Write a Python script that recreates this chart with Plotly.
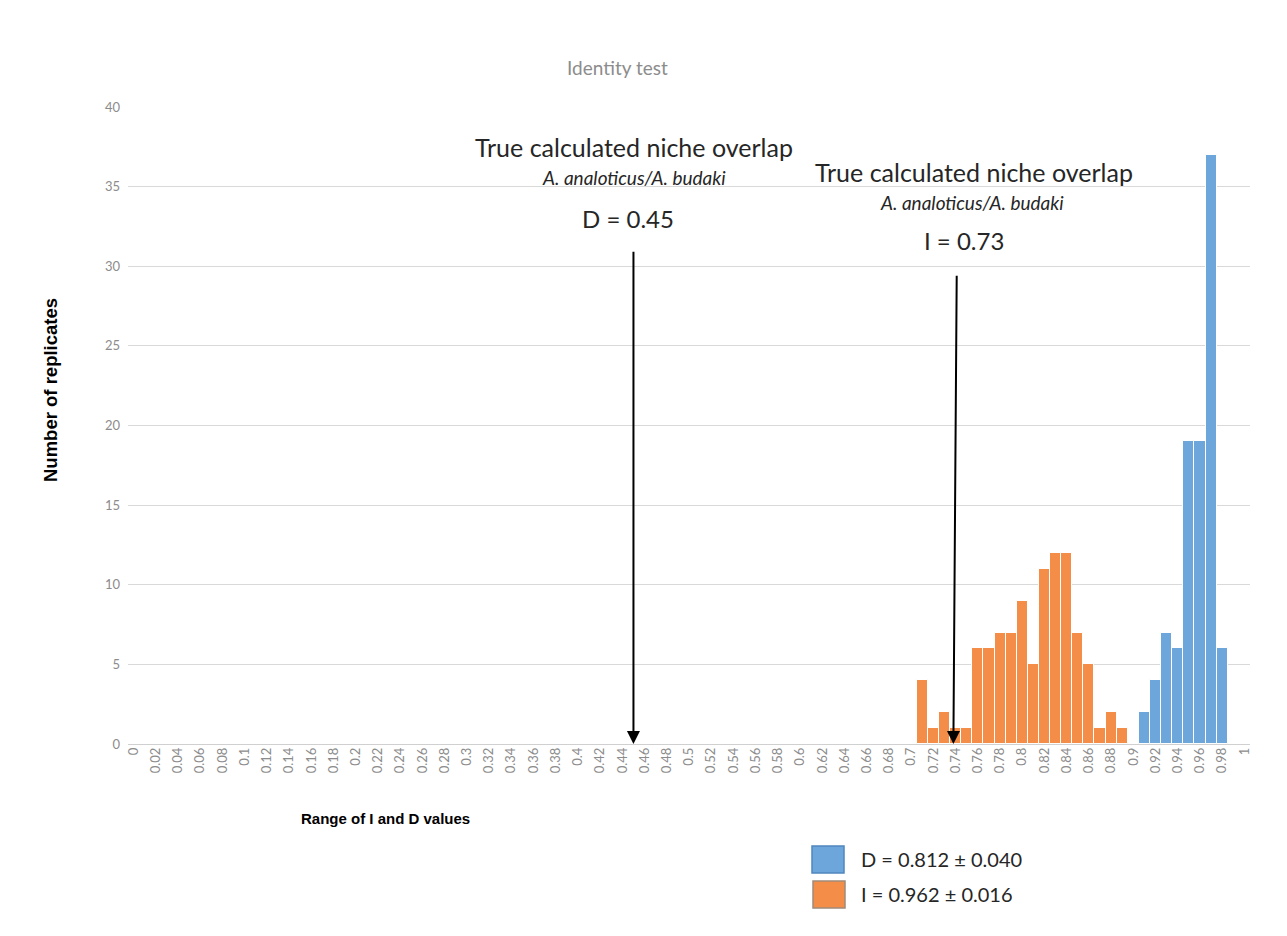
import plotly.graph_objects as go

# ---------------- data ----------------
blue_bins = [0.91, 0.92, 0.93, 0.94, 0.95, 0.96, 0.97, 0.98]
blue_counts = [2, 4, 7, 6, 19, 19, 37, 6]
blue_name = "D = 0.812 ± 0.040"

orange_bins = [0.71, 0.72, 0.73, 0.74, 0.75, 0.76, 0.77, 0.78, 0.79, 0.80,
               0.81, 0.82, 0.83, 0.84, 0.85, 0.86, 0.87, 0.88, 0.89]
orange_counts = [4, 1, 2, 1, 1, 6, 6, 7, 7, 9, 5, 11, 12, 12, 7, 5, 1, 2, 1]
orange_name = "I = 0.962 ± 0.016"

tick_vals = [0, 0.02, 0.04, 0.06, 0.08, 0.1, 0.12, 0.14, 0.16, 0.18, 0.2,
             0.22, 0.24, 0.26, 0.28, 0.3, 0.32, 0.34, 0.36, 0.38, 0.4,
             0.42, 0.44, 0.46, 0.48, 0.5, 0.52, 0.54, 0.56, 0.58, 0.6,
             0.62, 0.64, 0.66, 0.68, 0.7, 0.72, 0.74, 0.76, 0.78, 0.8,
             0.82, 0.84, 0.86, 0.88, 0.9, 0.92, 0.94, 0.96, 0.98, 1]
tick_text = [f"{v:g}" for v in tick_vals]

D_true = 0.45
I_true = 0.74  # where the "I = 0.73" arrow lands

BLUE = "#6ca6da"
ORANGE = "#f48d47"
TXT = "#262626"
TICK = "#8c8c8c"

W, H = 1287, 936
OFF = 8  # page body margin
L, R, T, B = 120, 45, 99, 200
PW = W - L - R
PH = H - T - B


def px(xp):
    return (xp - OFF - L) / PW


def py(yp):
    return (H - B - (yp - OFF)) / PH


fig = go.Figure()
fig.add_trace(go.Bar(x=orange_bins, y=orange_counts, name=orange_name,
                     marker=dict(color=ORANGE, line=dict(color="white", width=1)),
                     width=0.01, showlegend=False))
fig.add_trace(go.Bar(x=blue_bins, y=blue_counts, name=blue_name,
                     marker=dict(color=BLUE, line=dict(color="white", width=1)),
                     width=0.01, showlegend=False))

fig.update_layout(
    width=W, height=H,
    margin=dict(l=L, r=R, t=T, b=B),
    paper_bgcolor="white", plot_bgcolor="white",
    barmode="overlay", bargap=0,
    font=dict(family="Lato, Open Sans, sans-serif", color=TICK),
    xaxis=dict(range=[-0.005, 1.005], tickmode="array", tickvals=tick_vals,
               ticktext=tick_text, tickangle=-90, showgrid=False,
               zeroline=False, showline=False, ticks="",
               tickfont=dict(size=13, color=TICK, family="Lato")),
    yaxis=dict(range=[0, 40], dtick=5, showgrid=True, gridcolor="#d9d9d9",
               gridwidth=1, zeroline=True, zerolinecolor="#d0d0d0", zerolinewidth=1,
               ticks="", ticklabelstandoff=7,
               tickfont=dict(size=13, color=TICK, family="Lato")),
)


def txt(text, x, y, size, color=TXT, family="Lato", xanchor="center", angle=0):
    return dict(text=text, x=px(x), y=py(y), xref="paper", yref="paper",
                xanchor=xanchor, yanchor="middle", showarrow=False, textangle=angle,
                font=dict(size=size, color=color, family=family))


annos = []
annos.append(txt("Identity test", 617, 68, 19, color=TICK))
annos.append(txt("<b>Number of replicates</b>", 50, 390, 18.5, color="black",
                 family="Liberation Sans, Arial", angle=-90))
annos.append(txt("<b>Range of I and D values</b>", 385, 818, 15, color="black",
                 family="Liberation Sans, Arial"))

annos.append(txt("True calculated niche overlap", 634, 147, 25))
annos.append(txt("<i>A. analoticus/A. budaki</i>", 634, 178, 19))
annos.append(txt("D = 0.45", 628, 218, 24))

annos.append(txt("True calculated niche overlap", 974, 172, 25))
annos.append(txt("<i>A. analoticus/A. budaki</i>", 972, 202, 19))
annos.append(txt("I = 0.73", 964, 240, 24))

# arrows
annos.append(dict(x=D_true, y=0, xref="x", yref="y", ax=D_true, ay=31, axref="x", ayref="y",
                  showarrow=True, arrowhead=2, arrowsize=1.3, arrowwidth=2, arrowcolor="black",
                  text=""))
annos.append(dict(x=I_true - 0.002, y=0, xref="x", yref="y", ax=I_true + 0.001, ay=29.5,
                  axref="x", ayref="y",
                  showarrow=True, arrowhead=2, arrowsize=1.3, arrowwidth=2, arrowcolor="black",
                  text=""))

# legend (drawn manually to match the large swatches)
shapes = []
shapes.append(dict(type="rect", xref="paper", yref="paper", x0=px(812), x1=px(844),
                   y0=py(873), y1=py(846), fillcolor=BLUE, line=dict(color="#4f86bf", width=1.5)))
shapes.append(dict(type="rect", xref="paper", yref="paper", x0=px(813), x1=px(845),
                   y0=py(908), y1=py(881), fillcolor=ORANGE, line=dict(color="#a08a7a", width=1.5)))
annos.append(txt(blue_name, 859, 859, 20, xanchor="left"))
annos.append(txt(orange_name, 859, 894, 20, xanchor="left"))

fig.update_layout(annotations=annos, shapes=shapes)
fig.write_html("out.html")
